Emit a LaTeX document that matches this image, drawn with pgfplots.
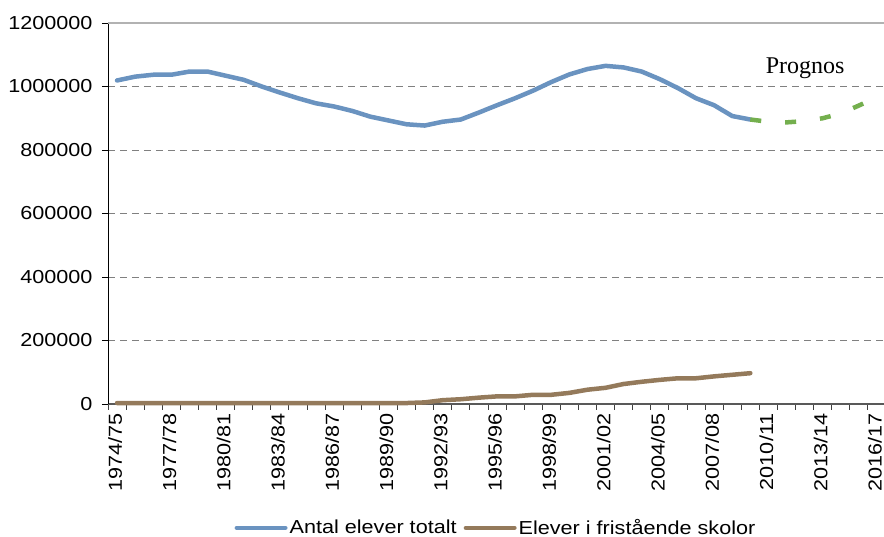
\documentclass[border=0pt]{standalone}
\usepackage{pgfplots}
\pgfplotsset{compat=1.18}
\usepackage{fontspec}
\setmainfont{Liberation Sans}[FakeStretch=1.15]
\newfontfamily\seriffont{Liberation Serif}
\definecolor{cblue}{HTML}{6A93C0}
\definecolor{cbrown}{HTML}{947A5B}
\definecolor{cgreen}{HTML}{74AF4E}
\begin{document}
\begin{tikzpicture}
\begin{axis}[
  at={(0,0)}, anchor=south west,
  scale only axis, width=778pt, height=381pt,
  xmin=-0.5, xmax=42.5, ymin=0, ymax=1200000,
  axis x line*=bottom, axis y line*=left,
  x axis line style={draw=black!65, line width=1.1pt, -},
  y axis line style={draw=black, line width=0.9pt, -},
  tick align=outside,
  xtick={0,3,...,42},
  xticklabels={1974/75,1977/78,1980/81,1983/84,1986/87,1989/90,1992/93,1995/96,1998/99,2001/02,2004/05,2007/08,2010/11,2013/14,2016/17},
  major x tick style={draw=none},
  minor xtick={-0.5,0.5,...,42.5},
  minor x tick style={draw=black!75, line width=0.9pt},
  minor tick length=6pt,
  major tick length=6pt,
  ytick={0,200000,...,1200000},
  y tick style={draw=black, line width=0.9pt},
  ymajorgrids,
  major grid style={draw=black!50, line width=0.9pt, dash pattern=on 7pt off 5pt},
  scaled y ticks=false,
  /pgf/number format/assume math mode=true,
  yticklabel={\pgfmathprintnumber[fixed,set thousands separator={}]{\tick}},
  xticklabel style={xshift=-2pt, rotate=90, anchor=east, font=\fontsize{18.8}{21}\selectfont},
  yticklabel style={font=\fontsize{18.8}{21}\selectfont, xshift=-6pt},
  legend style={at={(0.4987,-0.325)}, anchor=center, draw=none, fill=none,
    legend columns=2, font=\fontsize{18.8}{21}\selectfont,
    /tikz/every even column/.append style={column sep=5pt},
    inner sep=0pt},
  legend image code/.code={\draw[#1, line width=4.5pt, line cap=round] (2.5pt,0pt) -- (51pt,0pt);},
  clip=false,
]
\addplot[cblue, line width=4.5pt, line join=round, line cap=round] coordinates {
(0,1019000) (1,1031000) (2,1037000) (3,1037000) (4,1047000) (5,1047000)
(6,1034000) (7,1021000) (8,1000000) (9,981000) (10,963000) (11,947000)
(12,937000) (13,923000) (14,905000) (15,893000) (16,881000) (17,877000)
(18,889000) (19,896000) (20,918000) (21,941000) (22,963000) (23,987000)
(24,1014000) (25,1038000) (26,1055000) (27,1065000) (28,1060000) (29,1047000)
(30,1023000) (31,995000) (32,963000) (33,941000) (34,907000) (35,896000)
};
\addlegendentry{Antal elever totalt}
\addplot[cbrown, line width=4.5pt, line join=round, line cap=round] coordinates {
(0,3000) (1,3000) (2,3000) (3,3000) (4,3000) (5,3000) (6,3000) (7,3000)
(8,3000) (9,3000) (10,3000) (11,3000) (12,3000) (13,3000) (14,3000) (15,3000)
(16,3000) (17,5000) (18,12000) (19,15000) (20,20000) (21,24000) (22,24000)
(23,29000) (24,29000) (25,35000) (26,45000) (27,51000) (28,63000) (29,70000)
(30,76000) (31,81000) (32,81000) (33,87000) (34,92000) (35,97000)
};
\addlegendentry{Elever i fristående skolor}
\addplot[cgreen, line width=4.5pt, dash pattern=on 11pt off 24pt, forget plot] coordinates {
(35,896000) (36,889000) (37,887000) (38,891000) (39,900000) (40,915000) (41,940000) (42,966000)
};
\draw[black!30, line width=1.3pt] (rel axis cs:0,1) -- (rel axis cs:1,1);
\node[font=\seriffont\fontsize{24}{26}\selectfont] at (axis cs:38.03,1057000) {Prognos};
\end{axis}
\pgfresetboundingbox
\path[use as bounding box] (-108pt,-133pt) rectangle (776pt,404pt);
\end{tikzpicture}
\end{document}
